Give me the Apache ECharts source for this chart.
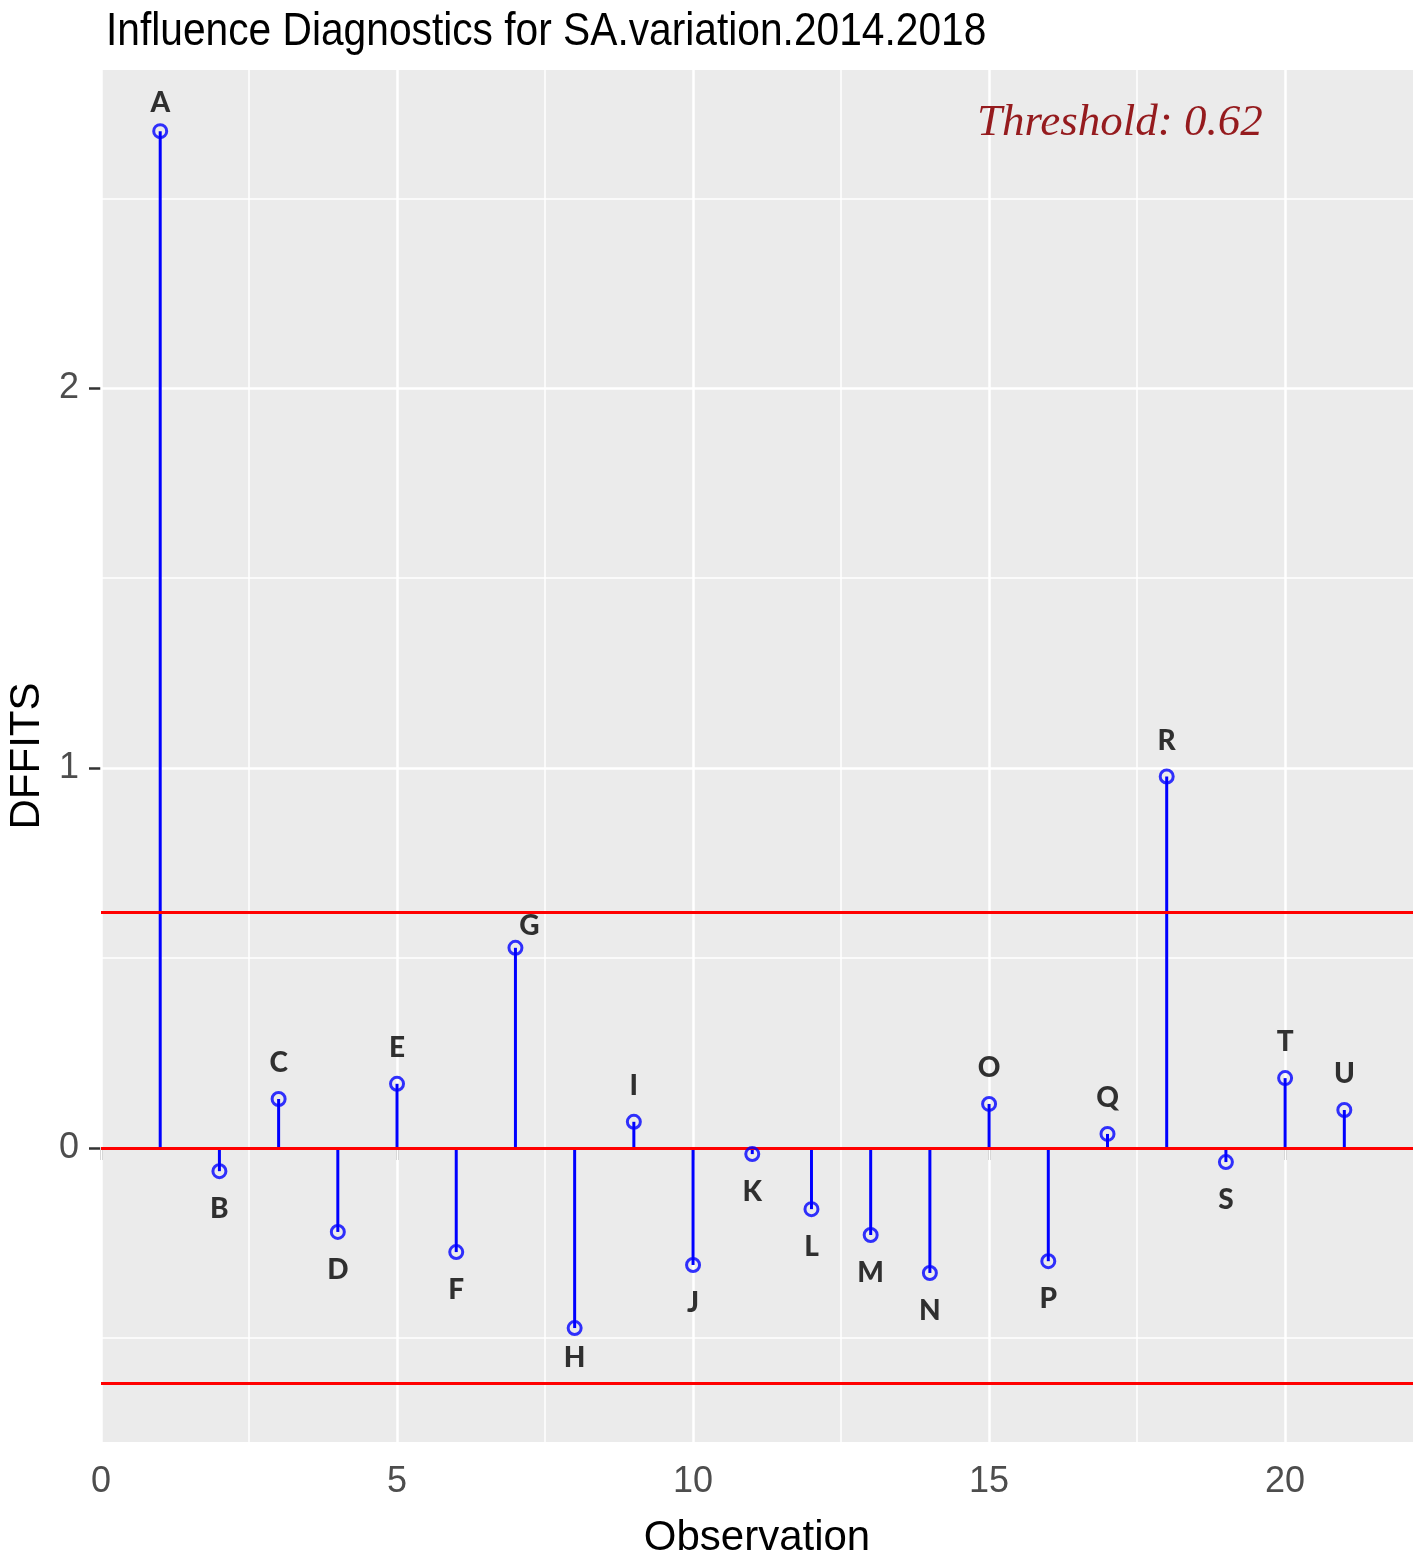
<!DOCTYPE html>
<html>
<head>
<meta charset="utf-8">
<script src="https://cdn.jsdelivr.net/npm/echarts@6/dist/echarts.min.js"></script>
<style>
  html, body { margin: 0; padding: 0; background: #ffffff; }
  #chart { width: 1418px; height: 1560px; }
</style>
</head>
<body>
<div id="chart"></div>
<script>
// ---- data ----
const pointLabels = ['A','B','C','D','E','F','G','H','I','J','K','L','M','N','O','P','Q','R','S','T','U'];
const observations = [1,2,3,4,5,6,7,8,9,10,11,12,13,14,15,16,17,18,19,20,21];
const dffits = [2.677, -0.061, 0.129, -0.221, 0.169, -0.274, 0.527, -0.474, 0.069, -0.308,
                -0.016, -0.161, -0.229, -0.329, 0.116, -0.298, 0.037, 0.978, -0.037, 0.184, 0.100];
const threshold = 0.62;
const xTicks = [0, 5, 10, 15, 20];
const xMinor = [2.5, 7.5, 12.5, 17.5];
const yTicks = [0, 1, 2];
const yMinor = [-0.5, 0.5, 1.5, 2.5];
const refLines = [0, threshold, -threshold];

// ---- chart ----
const chart = echarts.init(document.getElementById('chart'), null, { renderer: 'canvas' });

const pts = observations.map((x, i) => [x, dffits[i]]);

const labelTweaks = { A: { distance: 6 }, G: { distance: 0, offset: [14, 0] }, H: { distance: 8 } };

const scatterData = pts.map((p, i) => {
  const name = pointLabels[i];
  const pos = p[1] >= 0 ? 'top' : 'bottom';
  const tw = labelTweaks[name] || {};
  return {
    value: p,
    name: name,
    label: {
      position: pos,
      distance: tw.distance !== undefined ? tw.distance : (pos === 'top' ? 14 : 16),
      offset: tw.offset || [0, 0]
    }
  };
});

const gridLineData = []
  .concat(xTicks.map(v => ({ xAxis: v, lineStyle: { color: '#ffffff', width: 2.5, type: 'solid' } })))
  .concat(xMinor.map(v => ({ xAxis: v, lineStyle: { color: '#ffffff', width: 1.5, type: 'solid' } })))
  .concat(yTicks.map(v => ({ yAxis: v, lineStyle: { color: '#ffffff', width: 2.5, type: 'solid' } })))
  .concat(yMinor.map(v => ({ yAxis: v, lineStyle: { color: '#ffffff', width: 1.5, type: 'solid' } })));

const sansFont = "'Liberation Sans', Arial, sans-serif";

const option = {
  backgroundColor: '#ffffff',
  animation: false,
  grid: {
    left: 101, right: 5, top: 70, bottom: 118,
    outerBoundsMode: 'none',
    containLabel: false,
    show: true, backgroundColor: '#EBEBEB', borderWidth: 0
  },
  xAxis: {
    type: 'value',
    min: 0, max: 22.16,
    name: 'Observation',
    nameLocation: 'middle',
    nameGap: 75,
    nameTextStyle: { fontFamily: sansFont, fontSize: 42, color: '#000000' },
    axisLine: { show: false },
    axisTick: { show: true, length: 12, lineStyle: { color: '#333333', width: 2.5 }, customValues: xTicks },
    axisLabel: { customValues: xTicks, margin: 22, fontFamily: sansFont, fontSize: 36, color: '#4D4D4D' },
    splitLine: { show: false },
    minorSplitLine: { show: false }
  },
  yAxis: {
    type: 'value',
    min: -0.774, max: 2.838,
    name: 'DFFITS',
    nameLocation: 'middle',
    nameGap: 53,
    nameRotate: 90,
    nameTextStyle: { fontFamily: sansFont, fontSize: 42, color: '#000000' },
    axisLine: { show: false },
    axisTick: { show: true, length: 12, lineStyle: { color: '#333333', width: 2.5 }, customValues: yTicks },
    axisLabel: { customValues: yTicks, margin: 22, fontFamily: sansFont, fontSize: 36, color: '#4D4D4D' },
    splitLine: { show: false },
    minorSplitLine: { show: false }
  },
  graphic: [
    {
      type: 'text',
      x: 106,
      y: 32,
      scaleX: 0.885,
      z: 100,
      style: {
        text: 'Influence Diagnostics for SA.variation.2014.2018',
        font: "46px 'Liberation Sans', Arial, sans-serif",
        fill: '#000000',
        verticalAlign: 'middle',
        align: 'left'
      }
    },
    {
      type: 'text',
      x: 977,
      y: 123,
      z: 100,
      style: {
        text: 'Threshold: 0.62',
        font: "italic 45px 'Liberation Serif', 'Times New Roman', serif",
        fill: '#951B1E',
        verticalAlign: 'middle',
        align: 'left'
      }
    }
  ],
  series: [
    {
      name: 'grid',
      type: 'scatter',
      z: 1,
      silent: true,
      symbolSize: 0,
      data: pts,
      itemStyle: { opacity: 0 },
      markLine: {
        z: 1,
        silent: true,
        symbol: ['none', 'none'],
        label: { show: false },
        animation: false,
        data: gridLineData
      }
    },
    {
      name: 'stems',
      type: 'custom',
      z: 3,
      silent: true,
      data: pts,
      renderItem: function (params, api) {
        const x = api.value(0), y = api.value(1);
        const p0 = api.coord([x, 0]);
        const p1 = api.coord([x, y]);
        return {
          type: 'line',
          shape: { x1: p0[0], y1: p0[1], x2: p1[0], y2: p1[1] },
          style: { stroke: '#0000FF', lineWidth: 3 }
        };
      }
    },
    {
      name: 'ref',
      type: 'scatter',
      z: 4,
      silent: true,
      symbolSize: 0,
      data: [],
      markLine: {
        z: 4,
        silent: true,
        symbol: ['none', 'none'],
        label: { show: false },
        animation: false,
        lineStyle: { color: '#FF0000', width: 3, type: 'solid' },
        data: refLines.map(v => ({ yAxis: v }))
      }
    },
    {
      name: 'DFFITS',
      type: 'scatter',
      z: 5,
      symbol: 'circle',
      symbolSize: 13,
      itemStyle: { color: 'rgba(0,0,0,0)', borderColor: '#0000FF', borderWidth: 3 },
      label: {
        show: true,
        formatter: p => p.name,
        fontFamily: "Lato, 'Open Sans', sans-serif",
        fontWeight: 900,
        fontSize: 28,
        color: '#000000'
      },
      data: scatterData
    }
  ]
};

chart.setOption(option);
</script>
</body>
</html>
